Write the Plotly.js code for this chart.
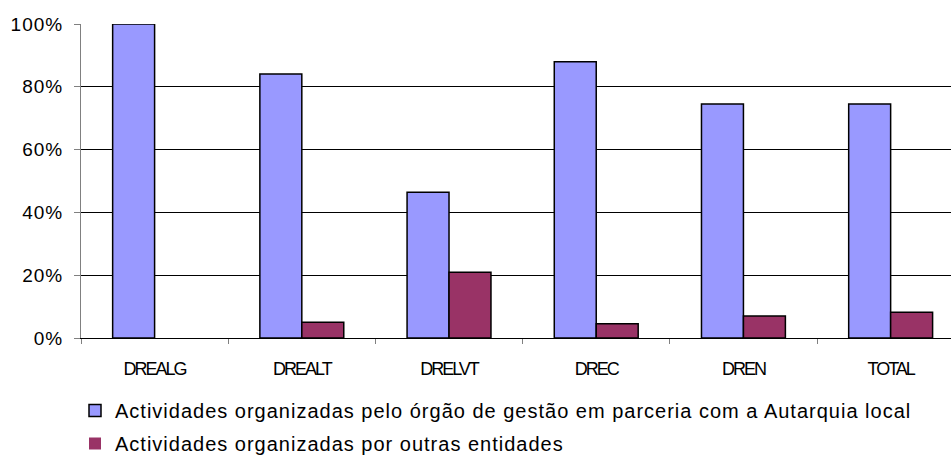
<!DOCTYPE html>
<html><head><meta charset="utf-8">
<script src="https://cdn.plot.ly/plotly-3.0.1.min.js"></script>
<style>
html,body{margin:0;padding:0;background:#fff}
#chart{width:951px;height:457px}
text.legendtext{letter-spacing:1px}
#chart .xtick text{letter-spacing:-2px}
#chart .ytick text{letter-spacing:1px}
</style>
</head><body><div id="chart"></div>
<script>
const categories = ["DREALG", "DREALT", "DRELVT", "DREC", "DREN", "TOTAL"];
const seriesNames = [
  "Actividades organizadas pelo órgão de gestão em parceria com a Autarquia local",
  "Actividades organizadas por outras entidades"
];
const parceria = [1.00, 0.841, 0.464, 0.880, 0.745, 0.745];
const outras = [0.0, 0.050, 0.209, 0.045, 0.070, 0.082];
const yTickVals = [0, 0.2, 0.4, 0.6, 0.8, 1.0];
const yTickText = ["0%", "20%", "40%", "60%", "80%", "100%"];

const sans = "'Liberation Sans', Arial, sans-serif";
const outlineOf = vals => vals.map(v => (v > 0 ? 1.5 : 0));

const traces = [
  {type: "bar", x: categories, y: parceria, name: seriesNames[0], legendgroup: "a",
   marker: {color: "#9999FF", line: {color: "#000", width: outlineOf(parceria)}}, hoverinfo: "skip"},
  {type: "bar", x: categories, y: outras, name: seriesNames[1], legendgroup: "b",
   marker: {color: "#993366", line: {color: "#000", width: outlineOf(outras)}}, hoverinfo: "skip"}
];

const layout = {
  width: 951, height: 457,
  margin: {l: 81, r: 0, t: 24, b: 119, autoexpand: false},
  paper_bgcolor: "#fff", plot_bgcolor: "#fff",
  barmode: "group", bargap: 0.43, bargroupgap: 0,
  showlegend: true,
  xaxis: {
    type: "category", range: [-0.5, 5.41], fixedrange: true, automargin: false,
    showgrid: false, zeroline: false,
    showline: true, linecolor: "#000", linewidth: 1,
    ticks: "outside", tickson: "boundaries", ticklen: 5, tickcolor: "#808080", tickwidth: 1,
    tickfont: {family: sans, size: 18, color: "#000"}, tickangle: 0,
    ticklabelstandoff: 14
  },
  yaxis: {
    range: [0, 1], fixedrange: true, automargin: false,
    tickvals: yTickVals, ticktext: yTickText,
    showgrid: true, gridcolor: "#000", gridwidth: 1,
    zeroline: false,
    showline: true, linecolor: "#808080", linewidth: 1,
    ticks: "outside", ticklen: 6, tickcolor: "#808080",
    tickfont: {family: sans, size: 19, color: "#000"},
    ticklabelstandoff: 7
  },
  legend: {
    orientation: "v", xref: "container", yref: "container",
    x: 75 / 951, y: 1 - 391 / 457, xanchor: "left", yanchor: "top",
    font: {family: sans, size: 20, color: "#000"},
    tracegroupgap: 4, itemwidth: 30, traceorder: "grouped",
    bgcolor: "rgba(0,0,0,0)"
  }
};

Plotly.newPlot("chart", traces, layout, {staticPlot: true, displayModeBar: false});
</script></body></html>
